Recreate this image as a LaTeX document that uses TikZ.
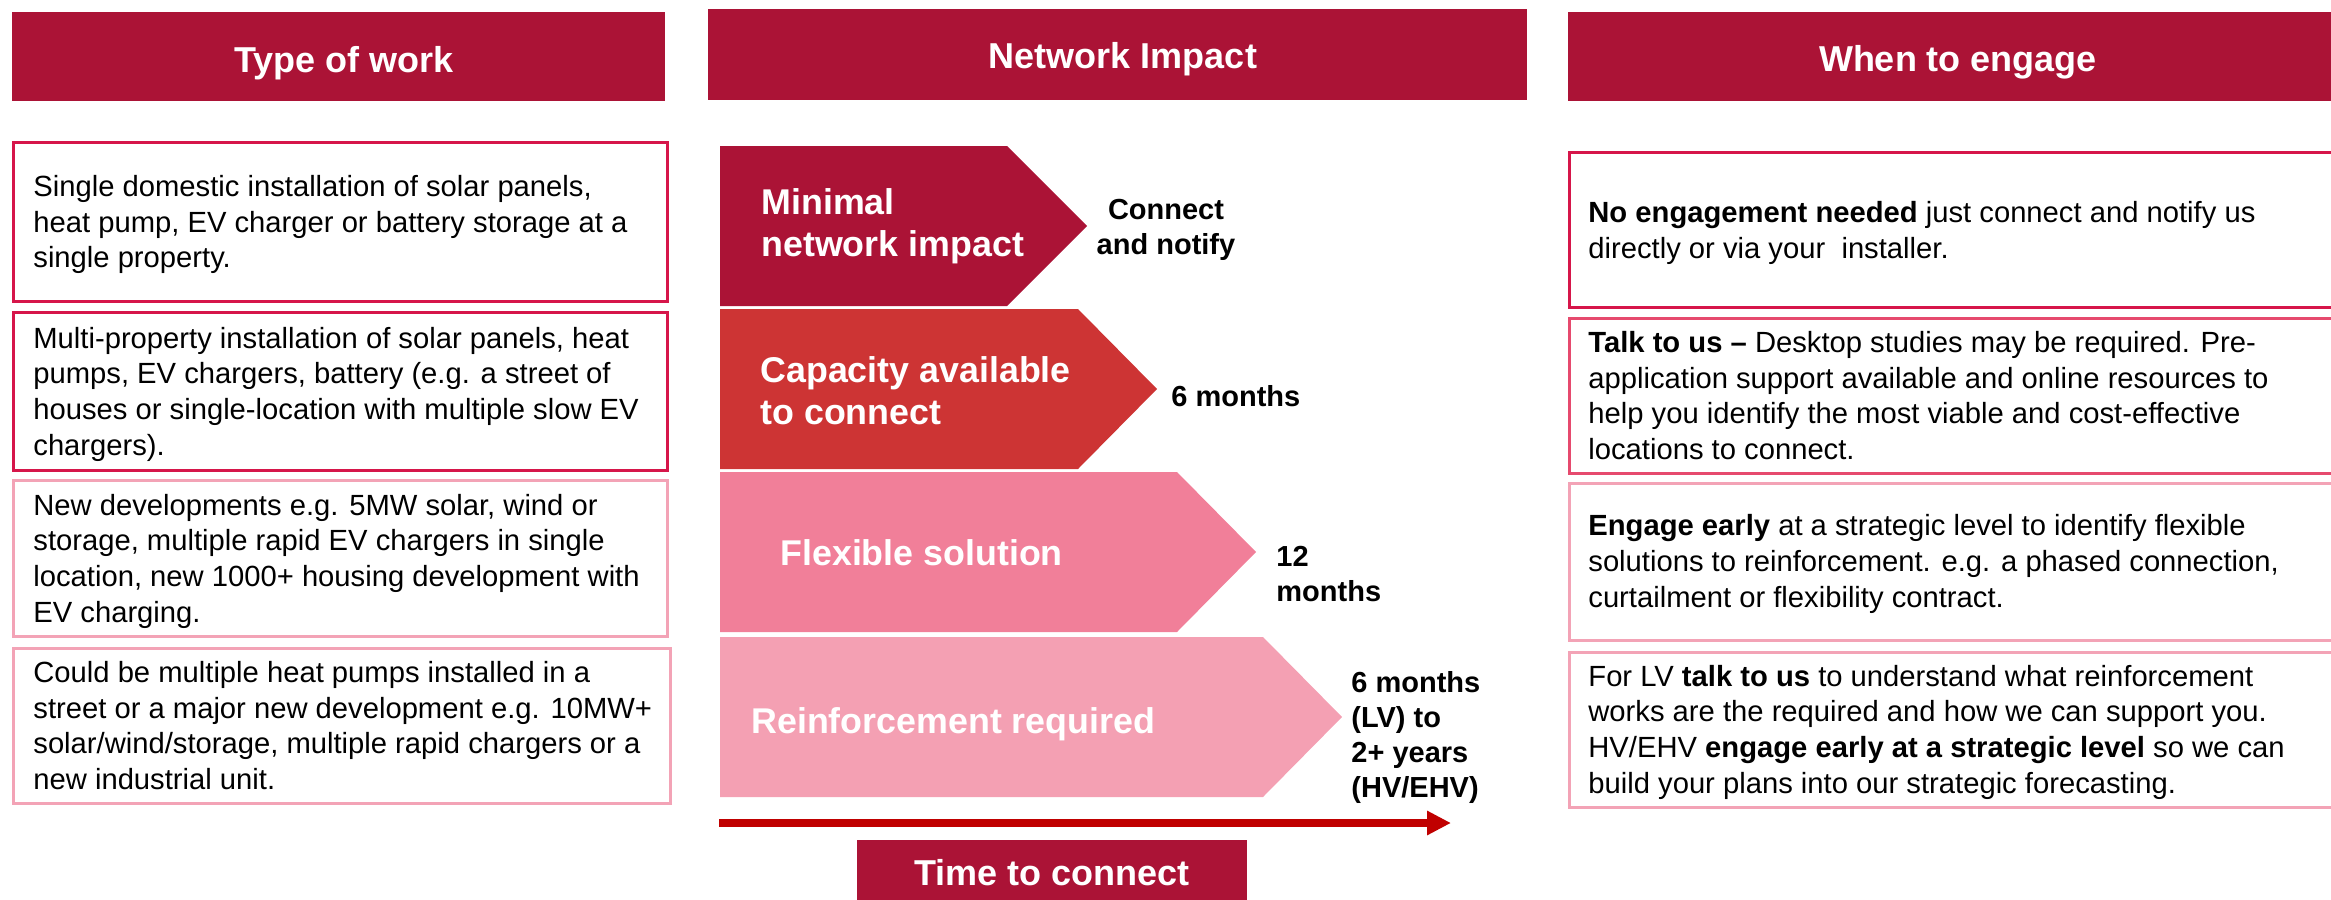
\documentclass[tikz,border=0pt]{standalone}
\usepackage{fontspec}
\setmainfont{Liberation Sans}
\usetikzlibrary{arrows.meta}
\definecolor{crimson}{RGB}{171,19,54}
\definecolor{redmid}{RGB}{205,52,52}
\definecolor{pinkmid}{RGB}{241,127,153}
\definecolor{pinklight}{RGB}{244,160,179}
\definecolor{borddark}{RGB}{214,22,74}
\definecolor{bordmid}{RGB}{230,74,110}
\definecolor{bordlight}{RGB}{243,163,182}
\definecolor{arrowred}{RGB}{192,0,0}
\begin{document}
\begin{tikzpicture}[x=0.5pt,y=-0.5pt,
  hdrtext/.style={text=white, font=\fontsize{18pt}{21pt}\selectfont\bfseries, inner sep=0pt, anchor=base},
  boxtext/.style={align=left, anchor=west, inner sep=0pt, font=\fontsize{14.6pt}{17.85pt}\selectfont},
  chevtext/.style={text=white, align=left, inner sep=0pt, font=\fontsize{17.9pt}{21pt}\selectfont\bfseries},
  timelabel/.style={inner sep=0pt, font=\fontsize{14.5pt}{17.6pt}\selectfont\bfseries},
  workbox/.style={line width=1.5pt, fill=white},
]
\useasboundingbox (0,0) rectangle (2331,900);
\clip (0,0) rectangle (2331,900);

% headers
\fill[crimson] (12,12) rectangle (665,101);
\fill[crimson] (708,9) rectangle (1527,100);
\fill[crimson] (1568,12) rectangle (2345,101);
\node[hdrtext] (h1) at (344,72) {Type of work};
\node[hdrtext] (h2) at (1123,68) {Network Impact};
\node[hdrtext] (h3) at (1958,71) {When to engage};

% left boxes
\draw[workbox, draw=borddark] (13,142) rectangle (667,301);
\draw[workbox, draw=borddark] (13,312) rectangle (667,470);
\draw[workbox, draw=bordlight] (13,480) rectangle (667,636);
\draw[workbox, draw=bordlight] (13,648) rectangle (670,803);
\node[boxtext] (w1) at (33,224.5) {Single domestic installation of solar panels,\\heat pump, EV charger or battery storage at a\\single property.};
\node[boxtext] (w2) at (33,394) {Multi-property installation of solar panels, heat\\pumps, EV chargers, battery (e.g. a street of\\houses or single-location with multiple slow EV\\chargers).};
\node[boxtext] (w3) at (33,561) {New developments e.g. 5MW solar, wind or\\storage, multiple rapid EV chargers in single\\location, new 1000+ housing development with\\EV charging.};
\node[boxtext] (w4) at (33,725.5) {Could be multiple heat pumps installed in a\\street or a major new development e.g. 10MW+\\solar/wind/storage, multiple rapid chargers or a\\new industrial unit.};

% chevrons
\fill[crimson] (720,146) -- (1007,146) -- (1087,226) -- (1007,306) -- (720,306) -- cycle;
\fill[redmid] (720,309) -- (1078,309) -- (1157,389) -- (1078,469) -- (720,469) -- cycle;
\fill[pinkmid] (720,472) -- (1177,472) -- (1256,552) -- (1177,632) -- (720,632) -- cycle;
\fill[pinklight] (720,637) -- (1263,637) -- (1342,717) -- (1263,797) -- (720,797) -- cycle;
\node[chevtext, anchor=west] (c1) at (761,226.6) {Minimal\\network impact};
\node[chevtext, anchor=west] (c2) at (760,390.4) {Capacity available\\to connect};
\node[chevtext, anchor=base west] (c3) at (780,565) {Flexible solution};
\node[chevtext, anchor=base west] (c4) at (751,733) {Reinforcement required};

% time labels
\node[timelabel, align=center] (t1) at (1166,230) {Connect\\and notify};
\node[timelabel, anchor=base west] (t2) at (1171,406) {6 months};
\node[timelabel, align=left, anchor=west] (t3) at (1276,574) {12\\months};
\node[timelabel, align=left, anchor=west] (t4) at (1351,737.5) {6 months\\(LV) to\\2+ years\\(HV/EHV)};

% time arrow
\coordinate (ts) at (719,823);
\coordinate (te) at (1451,823);
\draw[arrowred, line width=4pt, -{Triangle[length=12pt,width=11.5pt]}] (ts) -- (te);
\fill[crimson] (857,840) rectangle (1247,905);
\node[hdrtext] (ttc) at (1052,885) {Time to connect};

% right boxes
\draw[workbox, draw=borddark] (1569,152) rectangle (2345,307);
\draw[workbox, draw=bordmid] (1569,318) rectangle (2345,473);
\draw[workbox, draw=bordlight] (1569,483) rectangle (2345,640);
\draw[workbox, draw=bordlight] (1569,652) rectangle (2345,807);
\node[boxtext] (e1) at (1588,233) {\textbf{No engagement needed} just connect and notify us\\directly or via your\ \ installer.};
\node[boxtext] (e2) at (1588,395.5) {\textbf{Talk to us –} Desktop studies may be required. Pre-\\application support available and online resources to\\help you identify the most viable and cost-effective\\locations to connect.};
\node[boxtext] (e3) at (1588,564) {\textbf{Engage early} at a strategic level to identify flexible\\solutions to reinforcement. e.g. a phased connection,\\curtailment or flexibility contract.};
\node[boxtext] (e4) at (1588,732) {For LV \textbf{talk to us} to understand what reinforcement\\works are the required and how we can support you.\\HV/EHV \textbf{engage early at a strategic level} so we can\\build your plans into our strategic forecasting.};
\end{tikzpicture}
\end{document}
